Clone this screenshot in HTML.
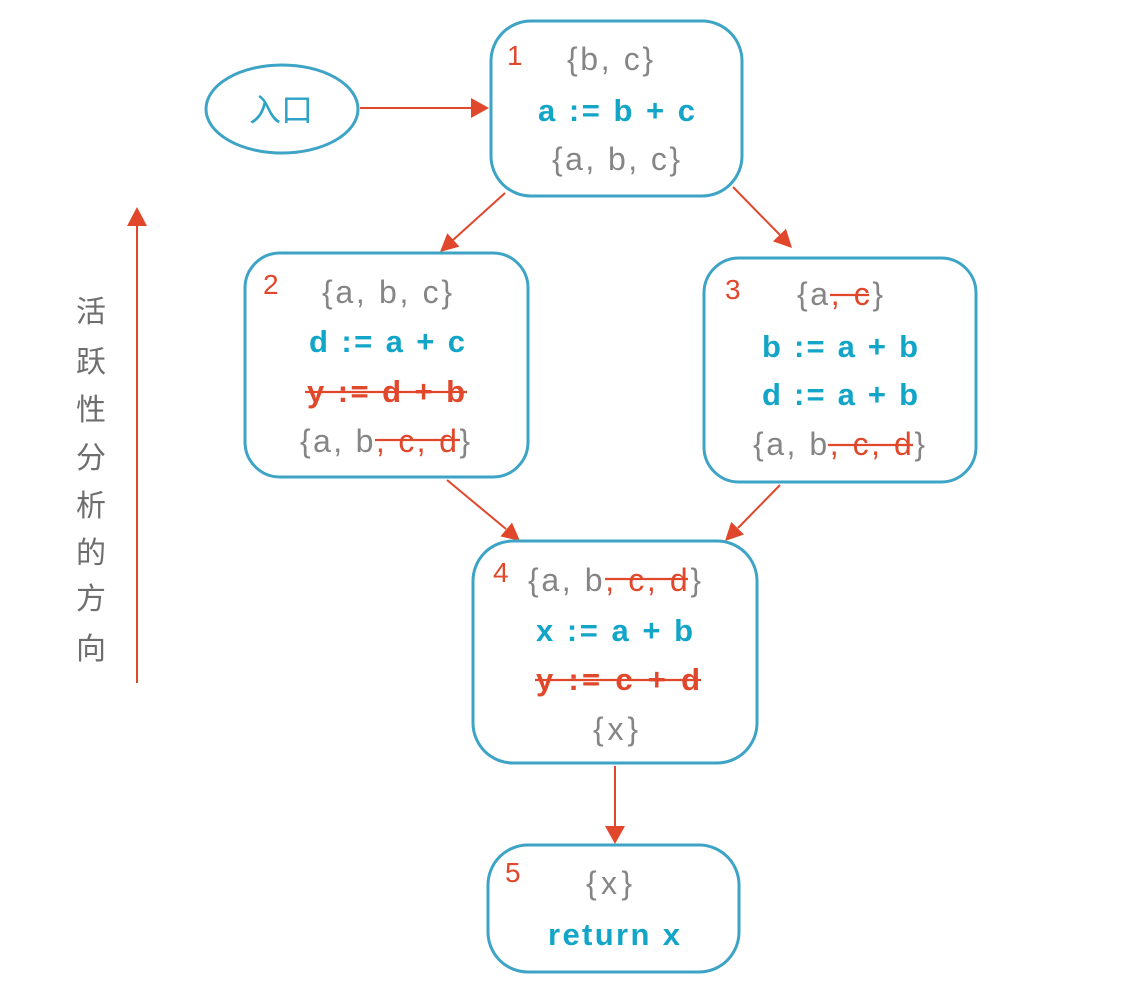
<!DOCTYPE html>
<html><head><meta charset="utf-8"><style>
html,body{margin:0;padding:0;background:#fff;}
svg{display:block;}
.g{fill:#858585;font-family:"Liberation Sans","DejaVu Sans",sans-serif;font-size:32px;}
.b{fill:#12a5c8;font-family:"Liberation Sans","DejaVu Sans",sans-serif;font-size:31px;font-weight:bold;}
.r{fill:#e0472b;}
.n{fill:#e0472b;font-family:"Liberation Sans","DejaVu Sans",sans-serif;font-size:28px;}
.box{fill:none;stroke:#3ea4c6;stroke-width:3;}
.ln{stroke:#e0472b;stroke-width:2;fill:none;}
.st{stroke:#e0472b;stroke-width:2.2;}
.ah{fill:#e0472b;}
.cj{fill:#6e6e6e;font-family:"Noto Sans CJK SC","WenQuanYi Zen Hei",sans-serif;font-size:30px;}
</style></head><body>
<svg width="1142" height="992" viewBox="0 0 1142 992" xmlns="http://www.w3.org/2000/svg">
<!-- entry -->
<ellipse cx="282" cy="109" rx="76" ry="44" class="box"/>
<text x="281" y="121" text-anchor="middle" style="fill:#2fa3c6;font-family:'Noto Sans CJK SC','WenQuanYi Zen Hei',sans-serif;font-size:32px;">入口</text>
<line x1="360" y1="108" x2="472" y2="108" class="ln"/>
<polygon class="ah" points="489,108 471,98 471,118"/>

<!-- Box 1 -->
<rect x="491" y="21" width="251" height="175" rx="40" class="box"/>
<text x="507" y="65" class="n">1</text>
<text x="567" y="70" class="g" textLength="86" lengthAdjust="spacing">{b, c}</text>
<text x="538" y="121" class="b" textLength="157" lengthAdjust="spacing">a := b + c</text>
<text x="552" y="170" class="g" textLength="128" lengthAdjust="spacing">{a, b, c}</text>

<!-- arrows from box1 -->
<line x1="505" y1="193" x2="453" y2="240" class="ln"/>
<polygon class="ah" points="440,252 459.4,246.6 447.3,233.2"/>
<line x1="733" y1="187" x2="780" y2="235" class="ln"/>
<polygon class="ah" points="792,248 773,241.4 786,228.8"/>

<!-- Box 2 -->
<rect x="245" y="253" width="283" height="224" rx="35" class="box"/>
<text x="263" y="294" class="n">2</text>
<text x="322" y="303" class="g" textLength="130" lengthAdjust="spacing">{a, b, c}</text>
<text x="309" y="352" class="b" textLength="156" lengthAdjust="spacing">d := a + c</text>
<text x="307" y="402" class="b r" textLength="158" lengthAdjust="spacing">y := d + b</text>
<line x1="305" y1="392" x2="467" y2="392" class="st"/>
<text x="300" y="452" class="g" textLength="170" lengthAdjust="spacing">{a, b<tspan class="r">, c, d</tspan>}</text>
<line x1="375" y1="440" x2="460" y2="440" class="st"/>

<!-- Box 3 -->
<rect x="704" y="258" width="272" height="224" rx="35" class="box"/>
<text x="725" y="299" class="n">3</text>
<text x="797" y="305" class="g" textLength="86" lengthAdjust="spacing">{a<tspan class="r">, c</tspan>}</text>
<line x1="830" y1="295" x2="869" y2="295" class="st"/>
<text x="762" y="357" class="b" textLength="156" lengthAdjust="spacing">b := a + b</text>
<text x="762" y="405" class="b" textLength="156" lengthAdjust="spacing">d := a + b</text>
<text x="753" y="455" class="g" textLength="172" lengthAdjust="spacing">{a, b<tspan class="r">, c, d</tspan>}</text>
<line x1="828" y1="445" x2="913" y2="445" class="st"/>

<!-- arrows to box4 -->
<line x1="447" y1="480" x2="506" y2="529" class="ln"/>
<polygon class="ah" points="520,541 500.4,536.4 512,522.6"/>
<line x1="780" y1="485" x2="738" y2="528" class="ln"/>
<polygon class="ah" points="725,541 744,534.5 731.2,521.9"/>

<!-- Box 4 -->
<rect x="473" y="541" width="284" height="222" rx="40" class="box"/>
<text x="493" y="582" class="n">4</text>
<text x="528" y="591" class="g" textLength="173" lengthAdjust="spacing">{a, b<tspan class="r">, c, d</tspan>}</text>
<line x1="605" y1="579" x2="688" y2="579" class="st"/>
<text x="536" y="641" class="b" textLength="157" lengthAdjust="spacing">x := a + b</text>
<text x="536" y="690" class="b r" textLength="164" lengthAdjust="spacing">y := c + d</text>
<line x1="535" y1="680" x2="701" y2="680" class="st"/>
<text x="593" y="740" class="g" textLength="45" lengthAdjust="spacing">{x}</text>

<!-- arrow to box5 -->
<line x1="615" y1="766" x2="615" y2="827" class="ln"/>
<polygon class="ah" points="615,844 605,826 625,826"/>

<!-- Box 5 -->
<rect x="488" y="845" width="251" height="127" rx="40" class="box"/>
<text x="505" y="882" class="n">5</text>
<text x="586" y="894" class="g" textLength="46" lengthAdjust="spacing">{x}</text>
<text x="548" y="945" class="b" textLength="132" lengthAdjust="spacing">return x</text>

<!-- left direction arrow -->
<line x1="137" y1="683" x2="137" y2="225" class="ln"/>
<polygon class="ah" points="137,207 127,226 147,226"/>
<text x="91" y="322" text-anchor="middle" class="cj">活</text>
<text x="91" y="372" text-anchor="middle" class="cj">跃</text>
<text x="91" y="420" text-anchor="middle" class="cj">性</text>
<text x="91" y="468" text-anchor="middle" class="cj">分</text>
<text x="91" y="516" text-anchor="middle" class="cj">析</text>
<text x="91" y="563" text-anchor="middle" class="cj">的</text>
<text x="91" y="609" text-anchor="middle" class="cj">方</text>
<text x="91" y="659" text-anchor="middle" class="cj">向</text>
</svg>
</body></html>
